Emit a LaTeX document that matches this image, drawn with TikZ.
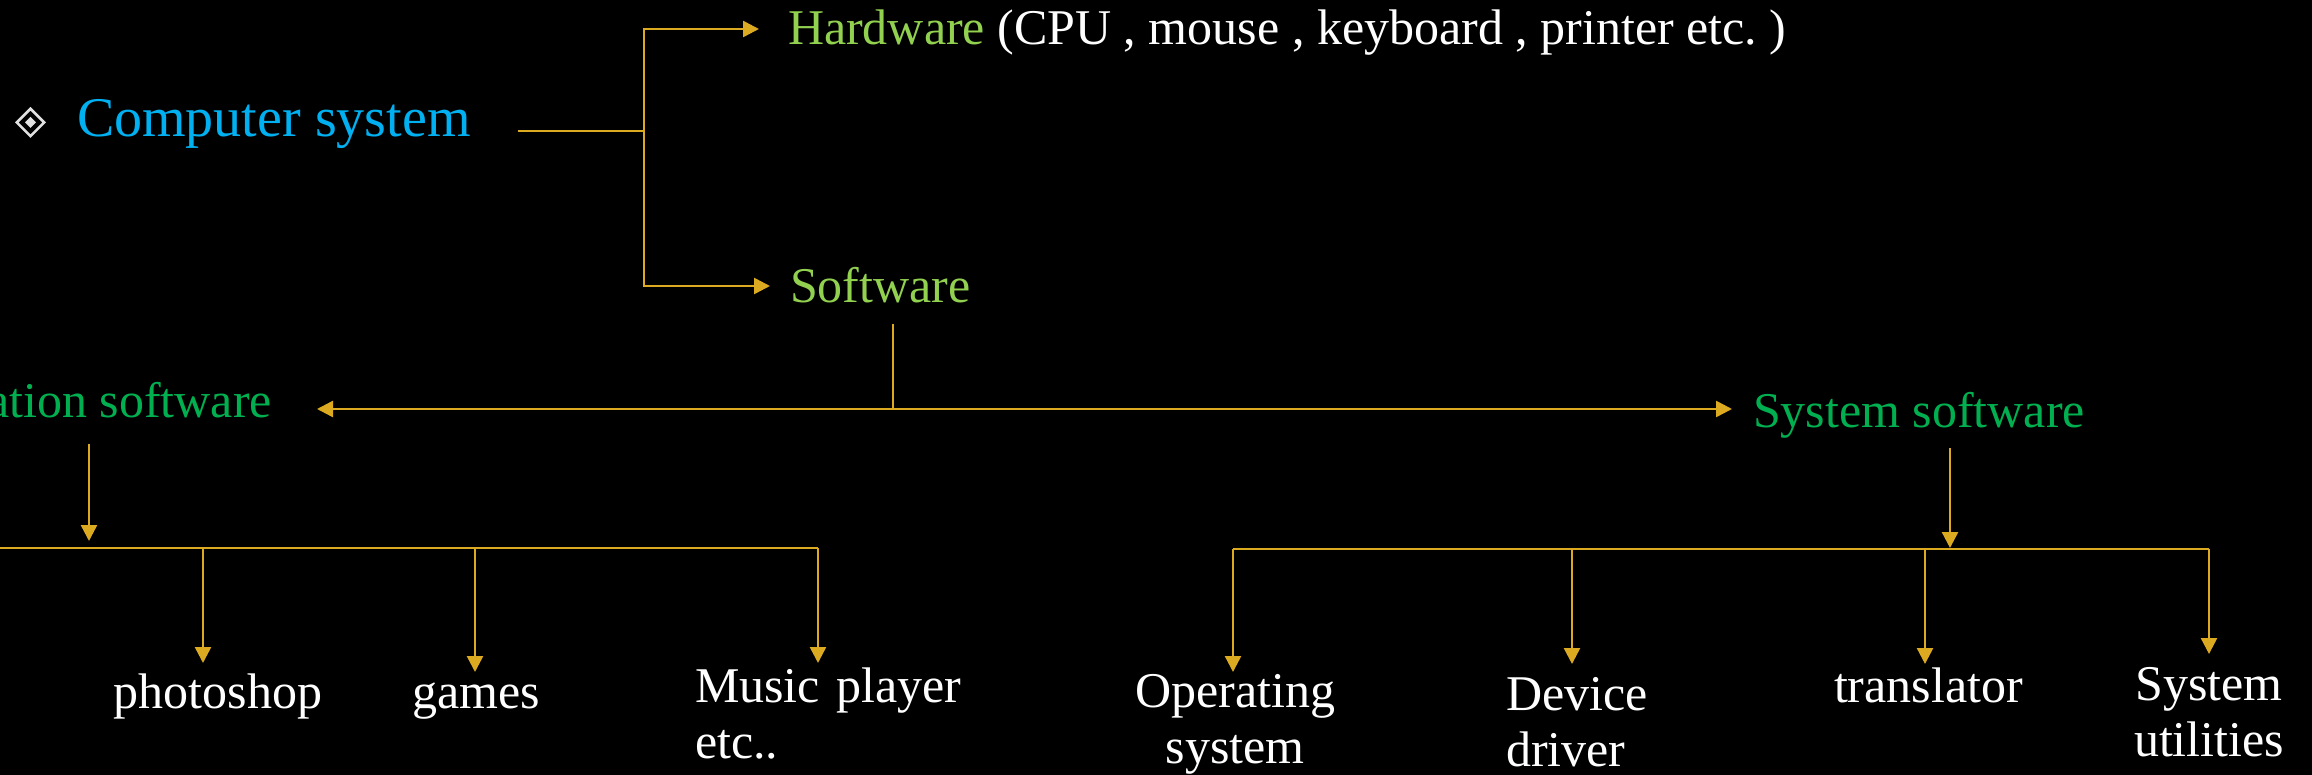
\documentclass[tikz,border=0pt]{standalone}
\usepackage{fontspec}
\setmainfont{Liberation Serif}
\usetikzlibrary{arrows.meta,calc,shapes.geometric}
\frenchspacing

\definecolor{wirecol}{RGB}{220,170,32}
\definecolor{titlecyan}{RGB}{0,176,240}
\definecolor{lightgreen}{RGB}{146,208,80}
\definecolor{darkgreen}{RGB}{0,176,80}
\definecolor{bulletgray}{RGB}{225,225,225}

\begin{document}
\begin{tikzpicture}[x=1pt,y=-1pt,
  lbl/.style={inner sep=0pt, outer sep=0pt, text=white, font=\fontsize{50}{56}\selectfont},
  multi/.style={text width=300pt},
  wire/.style={draw=wirecol, line width=2.5pt},
  feed/.style={wire, -{Triangle[length=16pt,width=16pt]}}]

% canvas
\useasboundingbox (0,0) rectangle (2312,775);
\fill[black] (0,0) rectangle (2312,775);
\clip (0,0) rectangle (2312,775);

% title with its bullet
\node[draw=bulletgray, line width=2.5pt, shape=diamond, minimum width=28.5pt,
      minimum height=28.5pt, inner sep=0pt] (bullet) at (30.5,122.5) {};
\fill[bulletgray] ([yshift=5.5pt]bullet.center) -- ([xshift=5.5pt]bullet.center)
  -- ([yshift=-5.5pt]bullet.center) -- ([xshift=-5.5pt]bullet.center) -- cycle;
\node[lbl, anchor=base west, text=titlecyan, font=\fontsize{56}{62}\selectfont]
  (cs) at (77,137) {Computer system};

% first level
\node[lbl, anchor=base west] (hw) at (788,45)
  {\textcolor{lightgreen}{Hardware} (CPU , mouse , keyboard , printer etc. )};
\node[lbl, anchor=base west, text=lightgreen] (sw) at (790,303) {Software};

% kinds of software
\node[lbl, anchor=base east, text=darkgreen] (app) at (272,417) {Application software};
\node[lbl, anchor=base west, text=darkgreen] (sys) at (1753,427) {System software};

% application examples
\node[lbl, anchor=base] (ph) at (218,708) {photoshop};
\node[lbl, anchor=base] (gm) at (476,708) {games};
\node[lbl, multi, align=left, anchor=base west] (mp) at (695,702) {Music player\\etc..};

% system examples
\node[lbl, multi, align=center, anchor=base] (os) at (1235,707) {Operating\\system};
\node[lbl, multi, align=left, anchor=base west] (dd) at (1506,710) {Device\\driver};
\node[lbl, anchor=base west] (tr) at (1834,702) {translator};
\node[lbl, multi, align=center, anchor=base] (su) at (2209,700) {System\\utilities};

% computer system -> hardware / software
\coordinate (split) at (644,131);
\coordinate (csout) at ($(cs.base east)+(47,-6)$);
\draw[wire] (csout) -- (split);
\draw[feed] (split) |- ($(hw.base west)+(-29,-16)$);
\draw[feed] (split) |- ($(sw.base west)+(-20,-17)$);

% software -> application / system
\coordinate (swout) at ($(sw.base west)+(103,21)$);
\coordinate (swjoin) at ($(swout)+(0,85)$);
\draw[wire] (swout) -- (swjoin);
\draw[feed] (swjoin) -- ($(app.base east)+(45,-8)$);
\draw[feed] (swjoin) -- ($(sys.base west)+(-21,-18)$);

% application software -> examples
\coordinate (appout) at ($(app.base east)+(-183,27)$);
\draw[feed] (appout) -- ++(0,97);
\coordinate (abus) at (-5,548);
\coordinate (phin) at ($(ph.base)+(-15,-45)$);
\coordinate (gmin) at ($(gm.base)+(-1,-36)$);
\coordinate (mpin) at ($(mp.base west)+(123,-39)$);
\draw[wire] (abus) -- (mpin |- abus);
\draw[feed] (phin |- abus) -- (phin);
\draw[feed] (gmin |- abus) -- (gmin);
\draw[feed] (mpin |- abus) -- (mpin);

% system software -> examples
\coordinate (sysout) at ($(sys.base west)+(197,21)$);
\draw[feed] (sysout) -- ++(0,100);
\coordinate (sbus) at (0,549);
\coordinate (osin) at ($(os.base)+(-2,-35)$);
\coordinate (ddin) at ($(dd.base west)+(66,-46)$);
\coordinate (trin) at ($(tr.base west)+(91,-38)$);
\coordinate (suin) at ($(su.base)+(0,-46)$);
\draw[wire] (osin |- sbus) -- (suin |- sbus);
\draw[feed] (osin |- sbus) -- (osin);
\draw[feed] (ddin |- sbus) -- (ddin);
\draw[feed] (trin |- sbus) -- (trin);
\draw[feed] (suin |- sbus) -- (suin);
\end{tikzpicture}
\end{document}
